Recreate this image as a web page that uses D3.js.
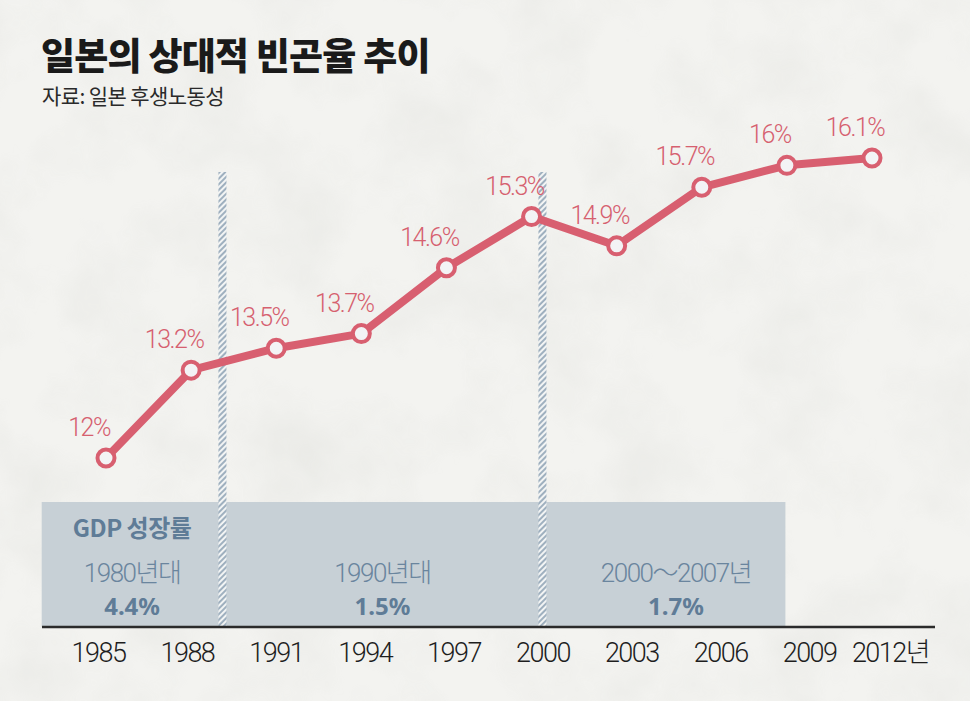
<!DOCTYPE html>
<html>
<head>
<meta charset="utf-8">
<script src="https://cdn.jsdelivr.net/npm/d3@7"></script>
<style>
  html, body { margin: 0; padding: 0; background: #f2f2ef; }
  svg { display: block; font-family: "Noto Sans CJK KR", "Noto Sans", sans-serif; }
  .num { font-family: Roboto, "Noto Sans CJK KR", sans-serif; }
</style>
</head>
<body>
<svg id="chart"></svg>
<script>
// data
const years = [1985, 1988, 1991, 1994, 1997, 2000, 2003, 2006, 2009, 2012];
const povertyRate = [12.0, 13.2, 13.5, 13.7, 14.6, 15.3, 14.9, 15.7, 16.0, 16.1];
const rateLabels = ["12%", "13.2%", "13.5%", "13.7%", "14.6%", "15.3%", "14.9%", "15.7%", "16%", "16.1%"];
const tickLabels = ["1985", "1988", "1991", "1994", "1997", "2000", "2003", "2006", "2009", "2012년"];

const periodNames = ["1980년대", "1990년대", "2000～2007년"];
const gdpGrowth = ["4.4%", "1.5%", "1.7%"];
const periodBounds = [1983.1, 1989.2, 2000, 2008.2]; // years where the GDP bands start / end

const width = 970, height = 701;
const lineColor = "#d85f70";
const bandText = "#5f7c97";

const svg = d3.select("#chart")
    .attr("width", width)
    .attr("height", height);

// paper texture + hatch
const defs = svg.append("defs");
const f = defs.append("filter").attr("id", "paper").attr("x", 0).attr("y", 0).attr("width", "100%").attr("height", "100%");
f.append("feTurbulence").attr("type", "fractalNoise").attr("baseFrequency", 0.012).attr("numOctaves", 4).attr("seed", 3).attr("result", "n");
f.append("feColorMatrix").attr("type", "matrix")
    .attr("values", "0 0 0 0 0.55  0 0 0 0 0.56  0 0 0 0 0.52  0 0 0 -0.9 0.55");

const hatch = defs.append("pattern")
    .attr("id", "hatch")
    .attr("patternUnits", "userSpaceOnUse")
    .attr("width", 4).attr("height", 4)
    .attr("patternTransform", "rotate(45)");
hatch.append("rect").attr("width", 4).attr("height", 4).attr("fill", "#f2f4f4");
hatch.append("rect").attr("width", 2).attr("height", 4).attr("fill", "#9fb0bf");

svg.append("rect").attr("width", width).attr("height", height).attr("fill", "#f3f3f0");
svg.append("rect").attr("width", width).attr("height", height).attr("filter", "url(#paper)").attr("opacity", 0.35);

// scales: axis years and line points are laid out slightly differently in the original
const xAxis = d3.scaleLinear().domain([1985, 2012]).range([98, 898]);
const xLine = d3.scaleLinear().domain([1985, 2012]).range([106, 872]);
const y = d3.scaleLinear().domain([12, 16.1]).range([458, 158]);

const axisY = 627;

// title
svg.append("text")
    .attr("x", 41).attr("y", 70)
    .text("일본의 상대적 빈곤율 추이")
    .style("font-size", "37px")
    .style("font-weight", 900)
    .style("letter-spacing", "-0.8px")
    .style("fill", "#1a1a1a");
svg.append("text")
    .attr("x", 42).attr("y", 104)
    .text("자료: 일본 후생노동성")
    .style("font-size", "21px")
    .style("font-weight", 400)
    .style("letter-spacing", "-0.6px")
    .style("fill", "#2a2a2a");

// GDP bands
const bands = periodNames.map((name, i) => ({ name, value: gdpGrowth[i], x0: periodBounds[i], x1: periodBounds[i + 1] }));

svg.append("g").selectAll("rect")
    .data(bands)
    .join("rect")
    .attr("x", d => xAxis(d.x0))
    .attr("y", 502)
    .attr("width", d => xAxis(d.x1) - xAxis(d.x0))
    .attr("height", axisY - 502)
    .attr("fill", "#c7d0d6");

// hatched separators at band boundaries
svg.append("g").selectAll("rect")
    .data(periodBounds.slice(1, 3))
    .join("rect")
    .attr("x", d => xAxis(d) - 4)
    .attr("y", 172)
    .attr("width", 8)
    .attr("height", axisY - 172)
    .attr("fill", "url(#hatch)");

svg.append("text")
    .attr("x", (xAxis(periodBounds[0]) + xAxis(periodBounds[1])) / 2)
    .attr("y", 537)
    .attr("text-anchor", "middle")
    .text("GDP 성장률")
    .style("font-size", "24px")
    .style("font-weight", 700)
    .style("letter-spacing", "-0.5px")
    .style("fill", bandText);

const bandLabels = svg.append("g").selectAll("g")
    .data(bands)
    .join("g")
    .attr("transform", (d, i) => `translate(${(xAxis(d.x0) + xAxis(d.x1)) / 2 + (i === 2 ? 12 : 0)},0)`);
bandLabels.append("text")
    .attr("class", "num")
    .attr("y", 582)
    .attr("text-anchor", "middle")
    .text(d => d.name)
    .style("font-size", "26px")
    .style("font-weight", 300)
    .style("letter-spacing", "-1.5px")
    .style("fill", "#6a859e");
bandLabels.append("text")
    .attr("y", 615)
    .attr("text-anchor", "middle")
    .text(d => d.value)
    .style("font-family", "\"Noto Sans\", sans-serif")
    .style("font-size", "24px")
    .style("font-weight", 700)
    .style("fill", bandText);

// x axis
const axis = svg.append("g")
    .attr("transform", `translate(0,${axisY})`)
    .call(d3.axisBottom(xAxis).tickValues(years).tickSize(0).tickPadding(0)
        .tickFormat((d, i) => tickLabels[i]));
axis.select(".domain").remove();
axis.selectAll("text")
    .attr("y", 35)
    .attr("dy", 0)
    .style("font-family", "Roboto, \"Noto Sans CJK KR\", sans-serif")
    .style("font-size", "27px")
    .style("font-weight", 300)
    .style("letter-spacing", "-1.5px")
    .style("fill", "#1e1e1e");
axis.selectAll("text").filter((d, i) => i === years.length - 1).attr("dx", -8);

svg.append("line")
    .attr("x1", 42).attr("x2", 935)
    .attr("y1", axisY).attr("y2", axisY)
    .attr("stroke", "#2b2b2b")
    .attr("stroke-width", 2.5);

// poverty rate line
const pts = years.map((yr, i) => ({ yr, v: povertyRate[i], label: rateLabels[i] }));

svg.append("path")
    .datum(pts)
    .attr("d", d3.line().x(d => xLine(d.yr)).y(d => y(d.v)))
    .attr("fill", "none")
    .attr("stroke", lineColor)
    .attr("stroke-width", 8)
    .attr("stroke-linejoin", "round");

svg.append("g").selectAll("circle")
    .data(pts)
    .join("circle")
    .attr("cx", d => xLine(d.yr))
    .attr("cy", d => y(d.v))
    .attr("r", 8.5)
    .attr("fill", "#f3f3f5")
    .attr("stroke", lineColor)
    .attr("stroke-width", 4);

svg.append("g").selectAll("text")
    .data(pts)
    .join("text")
    .attr("class", "num")
    .attr("x", d => xLine(d.yr) - 17)
    .attr("y", d => y(d.v) - 22)
    .attr("text-anchor", "middle")
    .text(d => d.label)
    .style("font-size", "25px")
    .style("font-weight", 300)
    .style("letter-spacing", "-1.5px")
    .style("fill", "#d6606f");
</script>
</body>
</html>
